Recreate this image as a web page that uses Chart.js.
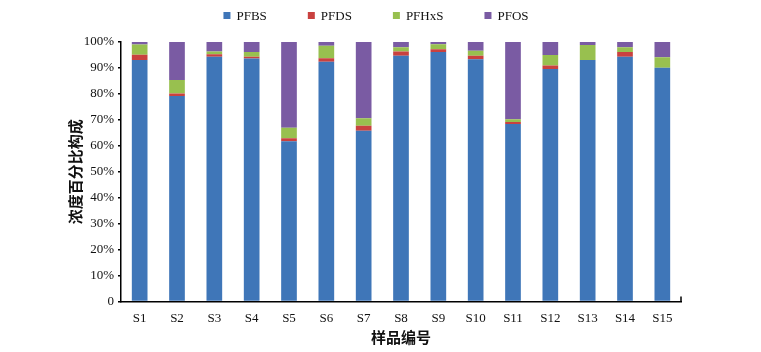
<!DOCTYPE html>
<html>
<head>
<meta charset="utf-8">
<script src="https://cdn.jsdelivr.net/npm/chart.js@4/dist/chart.umd.min.js"></script>
<style>
  html, body { margin: 0; padding: 0; background: #fff; }
  #wrap { width: 761px; height: 352px; }
</style>
</head>
<body>
<div id="wrap"><canvas id="share-chart"></canvas></div>
<script>
const samples = ['S1', 'S2', 'S3', 'S4', 'S5', 'S6', 'S7', 'S8', 'S9', 'S10', 'S11', 'S12', 'S13', 'S14', 'S15'];
const pfbs  = [93.1, 79.2, 94.3, 93.6, 61.8, 92.4, 65.8, 94.7, 96.1, 93.4, 68.4, 89.6, 93.1, 94.3, 90.1];
const pfds  = [2.0, 1.0, 1.0, 0.7, 1.1, 1.3, 1.9, 1.6, 1.1, 1.3, 0.8, 1.3, 0, 1.8, 0];
const pfhxs = [3.9, 5.2, 1.0, 1.8, 4.1, 4.9, 2.9, 1.7, 1.9, 1.9, 1.0, 4.1, 5.7, 1.9, 4.0];
const pfos  = [1.0, 14.6, 3.7, 3.9, 33.0, 1.4, 29.4, 2.0, 0.9, 3.4, 29.8, 5.0, 1.2, 2.0, 5.9];
const yTicks = [0, 10, 20, 30, 40, 50, 60, 70, 80, 90, 100];

const serif = '"Liberation Serif", "DejaVu Serif", serif';
const cjk = '"Noto Sans CJK SC", sans-serif';

// legend drawn by hand so the spacing between items matches the figure
const topLegend = {
  id: 'topLegend',
  afterDraw(chart) {
    const {ctx} = chart;
    const items = chart.data.datasets.map((ds) => ({text: ds.label, color: ds.backgroundColor}));
    const box = 7, gap = 6, spacing = 41;
    ctx.save();
    ctx.font = '13px ' + serif;
    const widths = items.map((it) => box + gap + ctx.measureText(it.text).width);
    const total = widths.reduce((a, b) => a + b, 0) + spacing * (items.length - 1);
    let x = 376 - total / 2;
    const y = 15.5;
    items.forEach((it, i) => {
      ctx.fillStyle = it.color;
      ctx.fillRect(x, y - box / 2, box, box);
      ctx.fillStyle = '#111';
      ctx.textBaseline = 'middle';
      ctx.fillText(it.text, x + box + gap, y + 1);
      x += widths[i] + spacing;
    });
    ctx.restore();
  }
};

// small upward tick at the right end of the category axis
const axisEnd = {
  id: 'axisEnd',
  afterDraw(chart) {
    const {ctx, chartArea} = chart;
    ctx.save();
    ctx.strokeStyle = '#000';
    ctx.lineWidth = 1.5;
    ctx.beginPath();
    ctx.moveTo(chartArea.right, chartArea.bottom);
    ctx.lineTo(chartArea.right, chartArea.bottom - 5);
    ctx.stroke();
    ctx.restore();
  }
};

const bar = (label, values, color) => ({
  label,
  data: values,
  backgroundColor: color,
  categoryPercentage: 1,
  barPercentage: 0.42,
  borderWidth: 0,
});

new Chart(document.getElementById('share-chart'), {
  type: 'bar',
  data: {
    labels: samples,
    datasets: [
      bar('PFBS', pfbs, '#3f76b8'),
      bar('PFDS', pfds, '#c9413f'),
      bar('PFHxS', pfhxs, '#98c04f'),
      bar('PFOS', pfos, '#7a5ba3'),
    ],
  },
  options: {
    responsive: true,
    maintainAspectRatio: false,
    animation: false,
    layout: {padding: {top: 42, right: 80, bottom: 0, left: 0}},
    scales: {
      x: {
        stacked: true,
        grid: {display: false, drawTicks: false},
        border: {display: true, color: '#000', width: 1.5},
        ticks: {
          color: '#111',
          font: {family: serif, size: 13},
          padding: 9,
          maxRotation: 0,
          autoSkip: false,
        },
        title: {
          display: true,
          text: '样品编号',
          color: '#111',
          font: {family: cjk, size: 15, weight: 'bold'},
          padding: {top: 0, bottom: 6},
        },
        afterFit: (scale) => { scale.height = 50.5; },
      },
      y: {
        stacked: true,
        min: 0,
        max: 100,
        afterBuildTicks: (scale) => { scale.ticks = yTicks.map((v) => ({value: v})); },
        grid: {drawOnChartArea: false, tickLength: 3, color: '#000', lineWidth: 1.5},
        border: {display: true, color: '#000', width: 1.5},
        ticks: {
          color: '#111',
          font: {family: serif, size: 13},
          padding: 4,
          callback: (v) => (v === 0 ? '0' : v + '%'),
        },
        title: {
          display: true,
          text: '浓度百分比构成',
          color: '#111',
          font: {family: cjk, size: 15, weight: 'bold'},
          padding: {top: 66, bottom: 0},
        },
        afterFit: (scale) => { scale.width = 121; },
      },
    },
    plugins: {
      legend: {display: false},
      tooltip: {enabled: false},
    },
  },
  plugins: [topLegend, axisEnd],
});
</script>
</body>
</html>
